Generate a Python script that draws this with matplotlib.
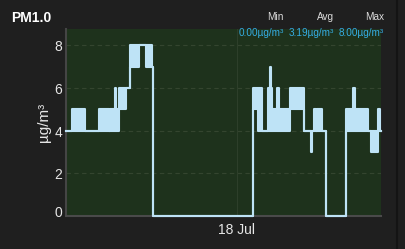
import matplotlib
matplotlib.use("Agg")
import matplotlib.pyplot as plt
from matplotlib.lines import Line2D

plt.rcParams['font.family'] = ['Liberation Sans', 'DejaVu Sans']

# hours relative to 18 Jul 00:00; each reading block has a low and a high value
hours = [-19.5, -18.8, -17.33, -15.73, -14.58, -14.47, -13.95, -13.84, -13.44, -12.64,
         -12.18, -11.15, -10.35, -9.67, -9.55, 1.87, 2.45, 2.90, 3.59, 3.84, 3.98,
         4.05, 4.62, 4.85, 6.05, 7.70, 8.50, 8.62, 8.85, 9.02, 9.19, 9.76, 10.16,
         12.50, 13.30, 13.53, 15.02, 15.36, 16.16, 16.39, 16.5]
pm_low = [4, 4, 4, 4, 4, 4, 4, 4, 5, 6,
          7, 8, 7, 7, 0, 5, 4, 4, 4, 4, 4,
          4, 4, 4, 5, 4, 3, 4, 4, 4, 4, 4, 0,
          4, 4, 4, 4, 3, 4, 4, 4]
pm_high = [4, 5, 4, 5, 4, 5, 6, 5, 6, 6,
           8, 8, 8, 7, 0, 6, 6, 4, 6, 7, 6,
           5, 6, 5, 6, 4, 4, 4, 5, 4, 5, 4, 0,
           5, 6, 5, 4, 4, 5, 4, 4]
yticks = [0, 2, 4, 6, 8]
xtick_pos = [0]
xtick_labels = ['18 Jul']
stat_names = ['Min', 'Avg', 'Max']
stat_values = ['0.00µg/m³', '3.19µg/m³', '8.00µg/m³']

bg = '#1f1f1f'
plot_bg = '#1e321c'
line_c = '#bee3f6'

fig = plt.figure(figsize=(4.05, 2.49), dpi=100, facecolor=bg)
ax = fig.add_axes([66/405, 1 - 216/249, 315/405, 187/249])
ax.set_facecolor(plot_bg)

ax.fill_between(hours, pm_low, pm_high, step='post', color=line_c, lw=0, zorder=3)
ax.step(hours, pm_low, where='post', color=line_c, lw=1.5, zorder=4, clip_on=False)
ax.step(hours, pm_high, where='post', color=line_c, lw=1.5, zorder=4, clip_on=False)

ax.set_xlim(-19.5, 16.5)
ax.set_ylim(0, 8.76)

for v in yticks[1:]:
    ax.axhline(v, color='#34452f', lw=0.8, ls=(0, (4, 3)), zorder=1)
ax.axvline(0, color='#2d3f2a', lw=0.8, zorder=1)

ax.set_yticks(yticks)
ax.set_yticklabels([])
for v in yticks:
    dy = 3.5 if v == 0 else -2
    ax.annotate(str(v), xy=(0, v), xycoords=('axes fraction', 'data'),
                xytext=(-4, dy), textcoords='offset pixels', ha='right', va='center',
                color='#e6e6e6', fontsize=10)
ax.set_xticks(xtick_pos)
ax.set_xticklabels(xtick_labels, color='#e6e6e6', fontsize=10)
ax.tick_params(length=0, pad=5)

for side in ['top', 'right']:
    ax.spines[side].set_visible(False)
ax.spines['left'].set_color('#454545')
ax.spines['bottom'].set_color('#4a4a4a')
ax.spines['left'].set_linewidth(1.5)
ax.spines['bottom'].set_linewidth(1.5)

ax.set_ylabel('µg/m³', color='#e6e6e6', fontsize=11, labelpad=6)

fig.text(11/405, 1 - 18.5/249, 'PM1.0', color='white', fontsize=10,
         fontweight='bold', va='center', ha='left')

right_edges = [284, 334, 384]
for name, val, xr in zip(stat_names, stat_values, right_edges):
    fig.text(xr/405, 1 - 16.5/249, name, color='#dddddd', fontsize=7.2,
             ha='right', va='center')
    fig.text(xr/405, 1 - 32.5/249, val, color='#35aee3', fontsize=7.2,
             ha='right', va='center')

fig.add_artist(Line2D([396.5/405, 396.5/405], [0, 1], color='#141414', lw=1.5))

fig.savefig('out.png', dpi=100, facecolor=bg)
